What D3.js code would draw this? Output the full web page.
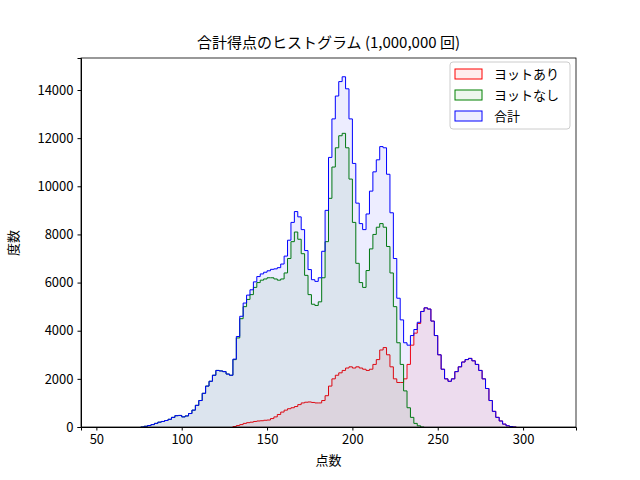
<!DOCTYPE html>
<html>
<head>
<meta charset="utf-8">
<script src="https://cdn.jsdelivr.net/npm/d3@7"></script>
<style>
  body { margin: 0; background: #fff; }
  text { font-family: "Noto Sans CJK JP", "DejaVu Sans", sans-serif; }
</style>
</head>
<body>
<div id="chart"></div>
<script>
// bins are 2 points wide; each array starts at its own score
const binWidth = 2;
const noYahtzeeStart = 76;
const noYahtzee = [0, 30, 60, 100, 150, 200, 230, 270, 320, 400, 470, 480, 420, 460, 560, 700, 900, 1100,
  1400, 1700, 1900, 2150, 2350, 2330, 2300, 2200, 2150, 2800, 3700, 4500, 5000, 5300, 5500, 5800, 6000,
  6100, 6150, 6200, 6200, 6150, 6100, 6150, 6400, 7000, 7700, 8100, 7800, 7200, 6300, 5500, 5100, 5050,
  5200, 6200, 7700, 9500, 10800, 11600, 12100, 12200, 11600, 10300, 8500, 6800, 6000, 5800, 6500, 7400,
  8000, 8300, 8450, 8300, 7500, 6400, 5000, 3500, 2600, 1500, 800, 400, 150, 50, 0];
const yahtzeeStart = 130;
const yahtzee = [20, 60, 100, 150, 180, 200, 230, 250, 260, 280, 290, 350, 420, 520, 620, 700, 760, 800,
  850, 930, 1000, 1030, 1040, 1020, 1000, 1000, 1100, 1300, 1700, 2000, 2150, 2250, 2350, 2450, 2500,
  2450, 2500, 2450, 2400, 2350, 2400, 2600, 2800, 3200, 3300, 3000, 2500, 2000, 1850, 1850, 2000, 2600,
  3400, 3900, 4300, 4800, 4950, 4900, 4400, 3800, 3000, 2400, 2000, 1900, 2000, 2300, 2500, 2700, 2800,
  2850, 2750, 2600, 2350, 2000, 1600, 1100, 650, 400, 250, 120, 50, 20, 0];
const xTicks = [50, 100, 150, 200, 250, 300];
const yTicks = [0, 2000, 4000, 6000, 8000, 10000, 12000, 14000];
const seriesNames = ["ヨットあり", "ヨットなし", "合計"];
const seriesColors = ["red", "green", "blue"];

function toBins(start, vals) {
  return vals.map((v, i) => ({ x: start + i * binWidth, v: v }));
}
const binsA = toBins(yahtzeeStart, yahtzee);
const binsB = toBins(noYahtzeeStart, noYahtzee);
// total = sum of both per bin
const totalMap = new Map();
binsA.concat(binsB).forEach(d => totalMap.set(d.x, (totalMap.get(d.x) || 0) + d.v));
const binsT = Array.from(totalMap, ([x, v]) => ({ x, v })).sort((a, b) => a.x - b.x);

const W = 640, H = 480;
const m = { l: 81, r: 64, t: 58, b: 53 };
const svg = d3.select("#chart").append("svg").attr("width", W).attr("height", H);

const x = d3.scaleLinear().domain([41, 331]).range([m.l, W - m.r]);
const y = d3.scaleLinear().domain([0, 15330]).range([H - m.b, m.t]);

function stepPath(bins) {
  const pts = [[bins[0].x, 0]];
  bins.forEach(d => { pts.push([d.x, d.v]); pts.push([d.x + binWidth, d.v]); });
  pts.push([bins[bins.length - 1].x + binWidth, 0]);
  return d3.line().x(p => x(p[0])).y(p => y(p[1]))(pts);
}

const plot = svg.append("g");
[binsA, binsB, binsT].forEach((bins, i) => {
  plot.append("path").attr("d", stepPath(bins))
    .attr("fill", seriesColors[i]).attr("fill-opacity", 0.07)
    .attr("stroke", seriesColors[i]).attr("stroke-width", 1);
});

// axes
svg.append("g").attr("transform", `translate(0,${H - m.b})`)
  .call(d3.axisBottom(x).tickValues(xTicks).tickSize(3.5).tickPadding(4))
  .call(g => g.selectAll("text").attr("font-size", 13).attr("fill", "#000"));
svg.append("g").attr("transform", `translate(${m.l},0)`)
  .call(d3.axisLeft(y).tickValues(yTicks).tickSize(3.5).tickPadding(4).tickFormat(d3.format("d")))
  .call(g => g.selectAll("text").attr("font-size", 13).attr("fill", "#000"));
svg.append("rect").attr("x", m.l).attr("y", m.t)
  .attr("width", W - m.l - m.r).attr("height", H - m.t - m.b)
  .attr("fill", "none").attr("stroke", "#000").attr("stroke-width", 0.8);

svg.append("text").attr("x", (m.l + W - m.r) / 2).attr("y", 48).attr("text-anchor", "middle")
  .attr("font-size", 15).text("合計得点のヒストグラム (1,000,000 回)");
svg.append("text").attr("x", (m.l + W - m.r) / 2).attr("y", 465).attr("text-anchor", "middle")
  .attr("font-size", 13).text("点数");
svg.append("text").attr("transform", "translate(18,243) rotate(-90)").attr("text-anchor", "middle")
  .attr("font-size", 13).text("度数");

// legend
const lg = svg.append("g").attr("transform", "translate(450,62)");
lg.append("rect").attr("width", 120).attr("height", 67).attr("rx", 3)
  .attr("fill", "#fff").attr("fill-opacity", 0.8).attr("stroke", "#ccc");
seriesNames.forEach((n, i) => {
  lg.append("rect").attr("x", 5).attr("y", 7 + i * 21).attr("width", 27).attr("height", 10)
    .attr("fill", seriesColors[i]).attr("fill-opacity", 0.07).attr("stroke", seriesColors[i]);
  lg.append("text").attr("x", 44).attr("y", 17 + i * 21).attr("font-size", 13).text(n);
});
</script>
</body>
</html>
